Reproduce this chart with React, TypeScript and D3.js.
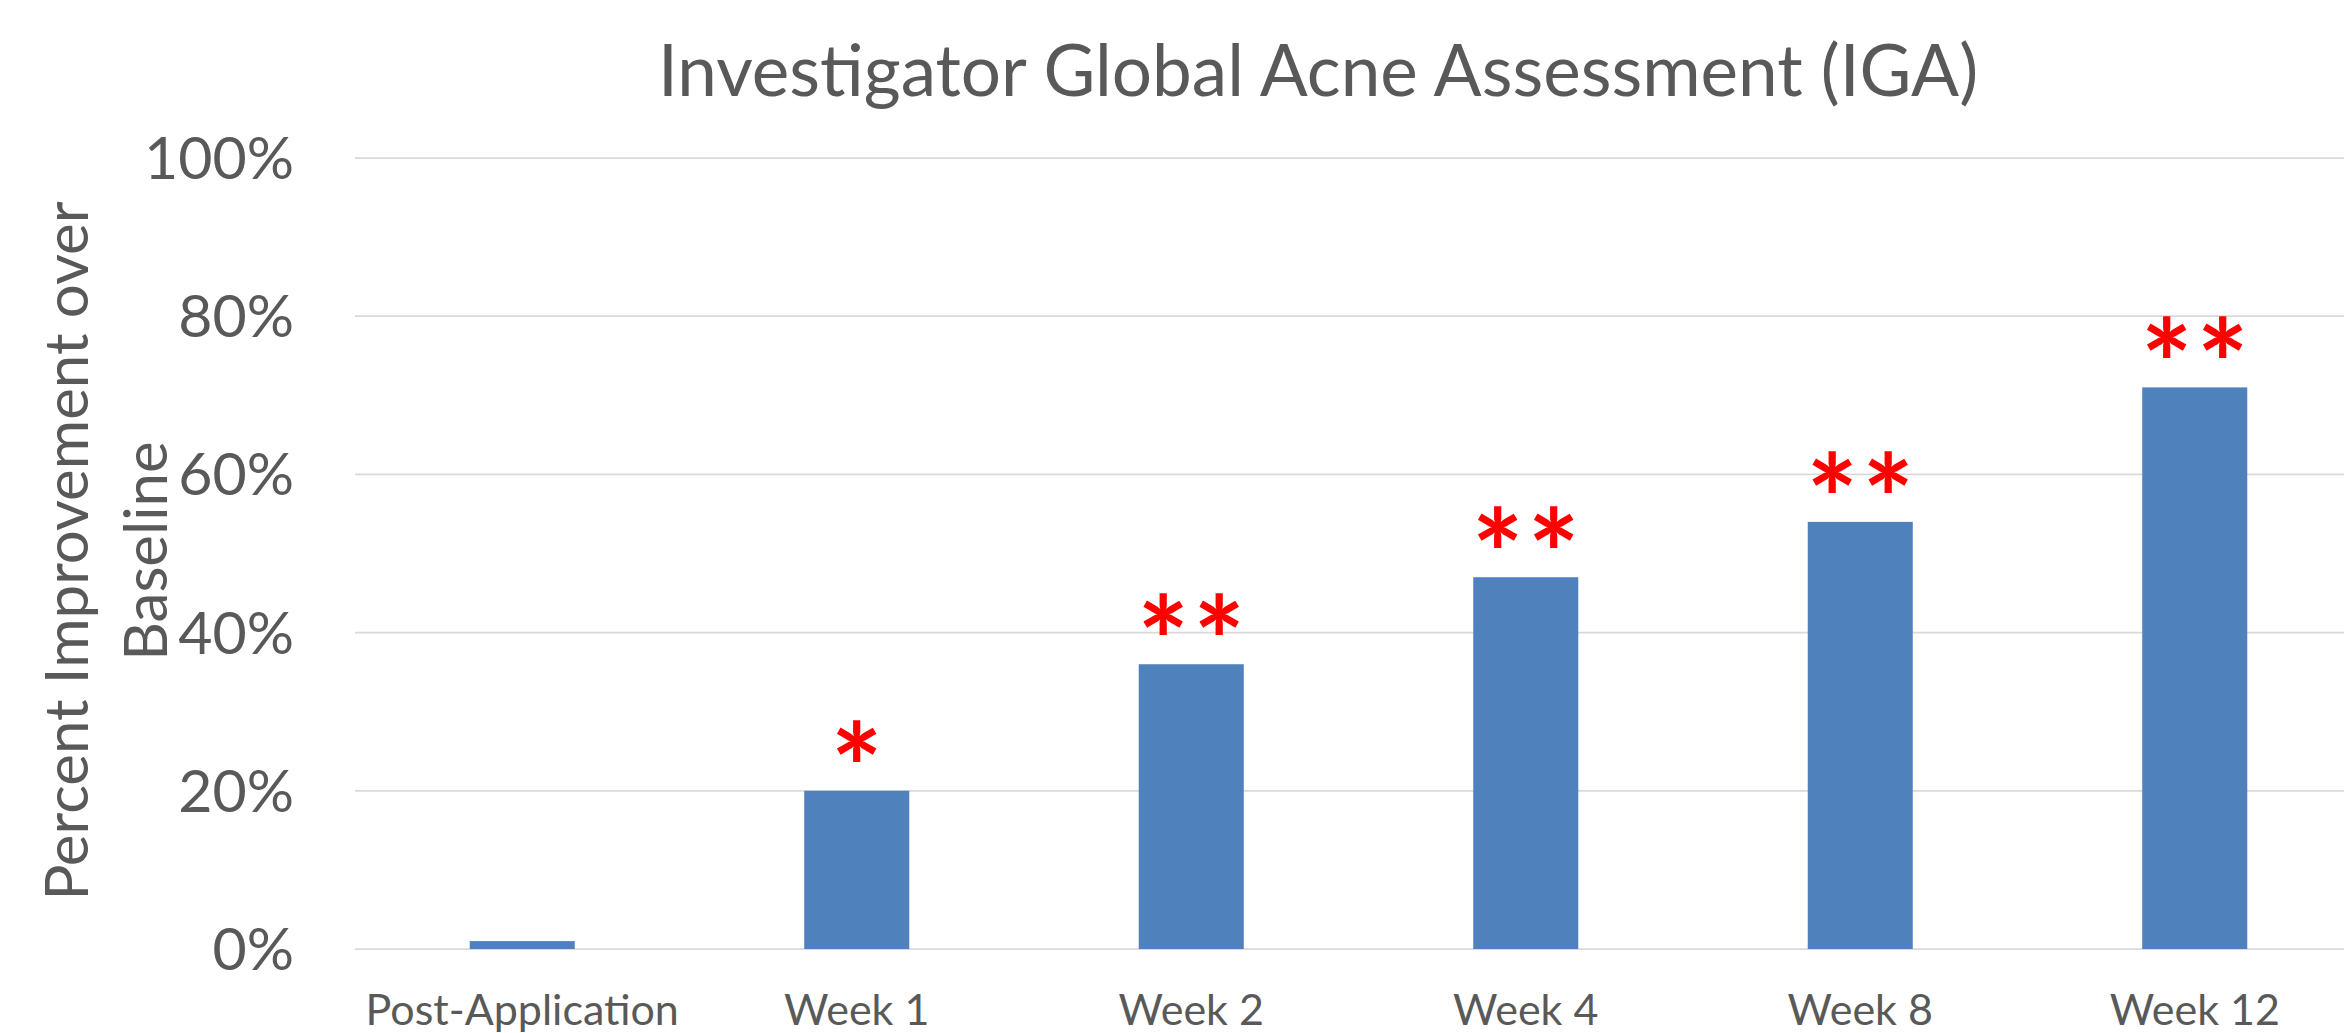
import React from "react";
import * as d3 from "d3";

const categories = ["Post-Application", "Week 1", "Week 2", "Week 4", "Week 8", "Week 12"];
const values = [0.01, 0.2, 0.36, 0.47, 0.54, 0.71];
const significance = ["", "*", "**", "**", "**", "**"];
const yTicks = [0, 0.2, 0.4, 0.6, 0.8, 1.0];
const titleText = "Investigator Global Acne Assessment (IGA)";
const yTitleLines = ["Percent Improvement over", "Baseline"];

const W = 2344;
const H = 1033;
const FONT = "Lato, 'Open Sans', sans-serif";
const TEXT = "#595959";

export default function App() {
  const x = d3
    .scaleBand<string>()
    .domain(categories)
    .range([355, 2362])
    .paddingInner(0.686)
    .paddingOuter(0.343);
  const y = d3.scaleLinear().domain([0, 1]).range([949, 158]);
  const fmt = d3.format(".0%");

  return (
    <div style={{ position: "fixed", left: 0, top: 0, width: W, height: H, background: "#fff" }}>
      <svg width={W} height={H} style={{ display: "block" }}>
        <rect x={0} y={0} width={W} height={H} fill="#fff" />
        <text
          x={1318}
          y={96}
          textAnchor="middle"
          fontFamily={FONT}
          fontSize={71}
          fill={TEXT}
        >
          {titleText}
        </text>
        {yTicks.map((t) => (
          <g key={t}>
            <line x1={355} x2={2362} y1={y(t)} y2={y(t)} stroke="#D9D9D9" strokeWidth={1.75} />
            <text
              x={294}
              y={y(t) + 21}
              textAnchor="end"
              fontFamily={FONT}
              fontSize={59}
              fill={TEXT}
            >
              {fmt(t)}
            </text>
          </g>
        ))}
        {categories.map((c, i) => (
          <g key={c}>
            <rect
              x={x(c)}
              y={y(values[i])}
              width={x.bandwidth()}
              height={y(0) - y(values[i])}
              fill="#4F81BD"
            />
            <text
              x={(x(c) as number) + x.bandwidth() / 2}
              y={1025}
              textAnchor="middle"
              fontFamily={FONT}
              fontSize={43}
              fill={TEXT}
            >
              {c}
            </text>
            {significance[i].split("").map((s, k, arr) => (
              <text
                key={k}
                x={(x(c) as number) + x.bandwidth() / 2 + (k - (arr.length - 1) / 2) * 56}
                y={y(values[i]) + 22}
                textAnchor="middle"
                fontFamily={FONT}
                fontWeight={700}
                fontSize={122}
                fill="#FF0000"
              >
                {s}
              </text>
            ))}
          </g>
        ))}
        <g transform="translate(0,551) rotate(-90)">
          {yTitleLines.map((l, i) => (
            <text
              key={l}
              x={0}
              y={88 + i * 79}
              textAnchor="middle"
              fontFamily={FONT}
              fontSize={60}
              fill={TEXT}
            >
              {l}
            </text>
          ))}
        </g>
      </svg>
    </div>
  );
}
